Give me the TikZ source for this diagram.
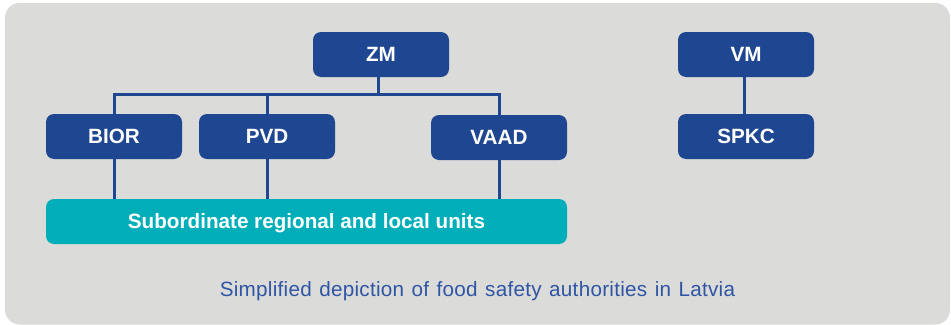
\documentclass[tikz,border=0pt]{standalone}
\usepackage{fontspec}
\setmainfont{Liberation Sans}
\newfontfamily\capfont[WordSpace=1.25,LetterSpace=1.3]{Liberation Sans}
\definecolor{panelgray}{HTML}{DBDBD9}
\definecolor{boxblue}{HTML}{1F4690}
\definecolor{boxteal}{HTML}{00AEB9}
\definecolor{capblue}{HTML}{2F55A4}
\tikzset{
  orgbox/.style={draw=none, fill=boxblue, rounded corners=6pt, minimum width=102pt, minimum height=33.75pt,
    inner sep=0pt, text=white, font=\fontsize{15.5}{18}\selectfont\bfseries, text height=11.1pt, text depth=0pt},
  unitbox/.style={orgbox, fill=boxteal, minimum width=390.75pt},
  conn/.style={draw=boxblue, line width=2.25pt},
  captext/.style={text=capblue, inner sep=0pt, font=\capfont\fontsize{15.5}{18}\selectfont, text height=11.1pt, text depth=0pt}
}
\begin{document}
\begin{tikzpicture}[x=0.75pt, y=-0.75pt]
  \useasboundingbox (0,0) rectangle (951,325);
  \fill[white] (0,0) rectangle (951,325);
  \fill[panelgray, rounded corners=11pt] (5,3) rectangle (950,324.5);
  \node[orgbox] (ZM) at (381,54.5) {ZM};
  \node[orgbox] (BIOR) at (114,136.5) {BIOR};
  \node[orgbox] (PVD) at (267,136.5) {PVD};
  \node[orgbox] (VAAD) at (499,137.5) {VAAD};
  \node[orgbox] (VM) at (746,54.5) {VM};
  \node[orgbox] (SPKC) at (746,136.5) {SPKC};
  \node[unitbox] (SUB) at (306.5,221.5) {Subordinate regional and local units};
  \node[captext] (CAP) at (477.5,289) {Simplified depiction of food safety authorities in Latvia};
  \coordinate (zmfoot) at ([xshift=-2.25pt]ZM.south);
  \coordinate (bus) at (zmfoot |- 0,94.3);
  \draw[conn] (zmfoot) -- (bus);
  \draw[conn] (BIOR.north) |- (bus) -| (VAAD.north);
  \draw[conn] (PVD.north) -- (PVD.north |- bus);
  \draw[conn] (BIOR.south) -- (BIOR.south |- SUB.north);
  \draw[conn] (PVD.south) -- (PVD.south |- SUB.north);
  \draw[conn] (VAAD.south) -- (VAAD.south |- SUB.north);
  \draw[conn] ([xshift=-1.2pt]VM.south) -- ([xshift=-1.2pt]SPKC.north);
\end{tikzpicture}
\end{document}
